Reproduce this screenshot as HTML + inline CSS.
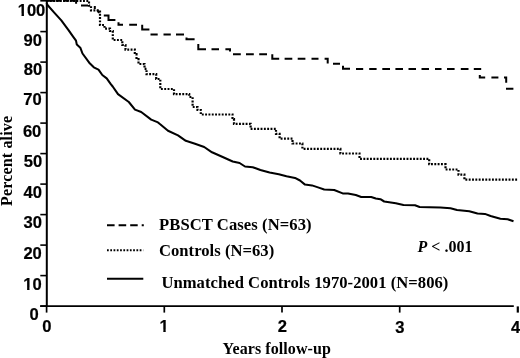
<!DOCTYPE html>
<html><head><meta charset="utf-8"><title>Survival</title>
<style>
html,body{margin:0;padding:0;background:#fff;}
svg{display:block;}
.sans text{font-family:"Liberation Sans",sans-serif;font-weight:bold;font-size:16.6px;fill:#000;stroke:#000;stroke-width:0.2px;}
.serif text{font-family:"Liberation Serif",serif;font-weight:bold;font-size:16px;fill:#000;}
</style></head>
<body>
<svg width="520" height="358" viewBox="0 0 520 358">
<rect width="520" height="358" fill="#fff"/>
<g stroke="#000" stroke-width="1.6" fill="none"><line x1="40.3" y1="306.10" x2="46.5" y2="306.10"/><line x1="40.3" y1="275.60" x2="46.5" y2="275.60"/><line x1="40.3" y1="245.10" x2="46.5" y2="245.10"/><line x1="40.3" y1="214.60" x2="46.5" y2="214.60"/><line x1="40.3" y1="184.10" x2="46.5" y2="184.10"/><line x1="40.3" y1="153.60" x2="46.5" y2="153.60"/><line x1="40.3" y1="123.10" x2="46.5" y2="123.10"/><line x1="40.3" y1="92.60" x2="46.5" y2="92.60"/><line x1="40.3" y1="62.10" x2="46.5" y2="62.10"/><line x1="40.3" y1="31.60" x2="46.5" y2="31.60"/><line x1="40.3" y1="0.80" x2="46.5" y2="0.80"/></g>
<g stroke="#000" stroke-width="1.7" fill="none"><line x1="46.60" y1="306" x2="46.60" y2="312.6"/><line x1="164.30" y1="306" x2="164.30" y2="312.6"/><line x1="282.00" y1="306" x2="282.00" y2="312.6"/><line x1="399.70" y1="306" x2="399.70" y2="312.6"/><line x1="517.8" y1="306.4" x2="517.8" y2="312.6" stroke-width="2.2"/></g>
<line x1="46.8" y1="0" x2="46.8" y2="307" stroke="#000" stroke-width="2"/>
<line x1="40.2" y1="306.1" x2="513.8" y2="306.1" stroke="#000" stroke-width="1.8"/>
<path d="M46.6,3 L47.5,5 L54,12.4 L61.3,20.4 L68.7,30.3 L72.9,36.3 L76,40.6 L76.8,44.6 L80.3,47.7 L82.5,53.5 L89.2,62.7 L93.8,67.3 L98.5,69.6 L102.3,75 L106.7,78.4 L110.8,84.2 L112.7,86.5 L118,94.2 L128.8,102 L135,109.6 L141.2,112 L151.2,119.6 L158,122.4 L159.6,123.8 L168,130.8 L178,135.4 L185.8,140.8 L195,143.8 L204.2,147 L212,152.3 L222.7,157 L232.7,161.5 L239.6,163 L245,166.5 L252.7,167.2 L260.4,170 L269.6,172.6 L278.8,174.2 L286.5,176.2 L295,177.9 L300,180.5 L305,184.6 L312,185.4 L318,187.4 L324.2,189.5 L334.2,190 L342.7,193.4 L348,193.4 L355.8,195 L361.2,197 L371.2,197 L375.8,198.4 L380.4,199.2 L384.2,201.5 L395.8,203.2 L403.5,205 L415,205.3 L419.6,207 L429.6,207.3 L440.4,207.6 L450.5,208.2 L457,210 L469.3,211.2 L477.5,213.6 L484.9,213.9 L490.6,216 L500.4,218.8 L507.7,219.3 L513.5,221.3" fill="none" stroke="#000" stroke-width="2.05" stroke-linejoin="round"/>
<path d="M46.5,0.9 H89 V5.6 H91 V10.4 H100 V25 H104.5 V28.6 H110 V31 H112.8 V40 H122.3 V45 H125.5 V49.6 H134.8 V54.2 H136.5 V59.2 H138.5 V64 H144.5 V68.8 H146.5 V74.2 H156.2 V79 H160.3 V89 H174 V94.2 H189.2 V97 H192.6 V107 H197.5 V110 H200.8 V114.5 H232.5 V119 H234 V123.8 H250.6 V128.8 H276 V133.8 H279.6 V138.6 H292.5 V143.5 H302.4 V148.8 H340.4 V153.5 H359.5 V158.8 H429.2 V164.2 H445.5 V169.5 H458.5 V174.7 H464.4 V179.6 H517.5" fill="none" stroke="#000" stroke-width="2.2" stroke-dasharray="1.9 1.42"/>
<path d="M46.5,0.8 H54 M55.5,0.8 H61.5 M63,0.8 H69 M70.5,0.8 H75 M76.1,0 V3.8 M81,5.6 H88 M94.8,6 V9 M97.3,10 L99,13 M103.8,15.4 H108.5 V20 H115.4 M118.5,22.3 V24.7 H123 M129.2,24.7 H137 M142.2,24.7 V29.5 H149.4 M150.5,34.6 H157.7 M163.5,34.6 H170.8 M176,34.6 H184 M186.5,37.5 V39.2 H194.6 M198.3,44 V49.2 H206 M211.5,49.2 H219 M225.4,49.2 H230 V51.5 M233,54.2 H240.8 M246,54.2 H253.8 M259.2,54.2 H267 M272.3,54.2 V58.8 H279.2 M284.6,58.8 H292.3 M297.7,58.8 H305.4 M311.5,58.8 H318.5 M324.6,58.8 H327.7 V63.5 M333,63.8 H340 M343,65.8 V68.8 H350 M356,69 H363.2 M369.2,69 H376.6 M382.3,69 H390 M395.4,69 H403 M408.5,69 H416 M421.5,69 H429 M435,69 H441.5 M447,69 H454.6 M460.8,69 H468.5 M473.8,69 H481.2 M479.8,75 V77.6 H485.2 M491.4,77.6 H498.4 M504,77.6 H506.2 V82.7 M506,88.7 H513.4" fill="none" stroke="#000" stroke-width="2"/>
<g stroke="#000" fill="none">
<path d="M107,225.2 H114.6 M118.6,225.2 H126.2 M130.2,225.2 H137.7 M141.7,225.2 H143.8" stroke-width="2"/>
<line x1="107" y1="250.3" x2="143.2" y2="250.3" stroke-width="2" stroke-dasharray="1.75 1.52"/>
<line x1="107" y1="278.8" x2="143.3" y2="278.8" stroke-width="2.1"/>
</g>
<g class="sans"><text transform="translate(32.4,290.1) scale(1,1.04)" text-anchor="middle">10</text><text transform="translate(32.6,259.1) scale(1,1.04)" text-anchor="middle">20</text><text transform="translate(32.8,228.3) scale(1,1.04)" text-anchor="middle">30</text><text transform="translate(32.699999999999996,197.6) scale(1,1.04)" text-anchor="middle">40</text><text transform="translate(32.9,167.4) scale(1,1.04)" text-anchor="middle">50</text><text transform="translate(32.1,136.7) scale(1,1.04)" text-anchor="middle">60</text><text transform="translate(32.4,105.4) scale(1,1.04)" text-anchor="middle">70</text><text transform="translate(32.9,75.4) scale(1,1.04)" text-anchor="middle">80</text><text transform="translate(32.699999999999996,45.8) scale(1,1.04)" text-anchor="middle">90</text><text transform="translate(31.5,15.6) scale(1,1.04)" text-anchor="middle">100</text><text transform="translate(34,319.65) scale(1,1.04)" text-anchor="middle">0</text><text transform="translate(46.8,331.65) scale(1,1.04)" text-anchor="middle">0</text><text transform="translate(164,332.0) scale(1,1.04)" text-anchor="middle">1</text><text transform="translate(282.4,332.35) scale(1,1.04)" text-anchor="middle">2</text><text transform="translate(399.8,332.5) scale(1,1.04)" text-anchor="middle">3</text><text transform="translate(515.6,332.7) scale(1,1.04)" text-anchor="middle">4</text></g>
<g fill="#fff" stroke="none">
<rect x="17" y="13.7" width="4.5" height="2.6"/><rect x="23.95" y="13.7" width="3.2" height="2.6"/>
<rect x="23.3" y="287.7" width="3.8" height="2.6"/><rect x="29.5" y="287.7" width="2.9" height="2.6"/>
<rect x="159.3" y="329.7" width="4" height="2.7"/><rect x="165.7" y="329.7" width="3.6" height="2.7"/>
</g>
<g class="serif">
<text x="159" y="230" style="font-size:16.6px" textLength="152.6" lengthAdjust="spacing">PBSCT Cases (N=63)</text>
<text x="159" y="256" style="font-size:16.6px" textLength="115.2" lengthAdjust="spacing">Controls (N=63)</text>
<text x="161.4" y="287.6" style="font-size:16.6px" textLength="287" lengthAdjust="spacing">Unmatched Controls 1970-2001 (N=806)</text>
<text x="417.5" y="252.4"><tspan font-style="italic">P</tspan> &lt; .001</text>
<text x="222.6" y="353.5" textLength="108.2" lengthAdjust="spacing">Years follow-up</text>
<text transform="translate(12.4,206) rotate(-90) scale(1,1.06)" textLength="90" lengthAdjust="spacing">Percent alive</text>
</g>
</svg>
</body></html>
